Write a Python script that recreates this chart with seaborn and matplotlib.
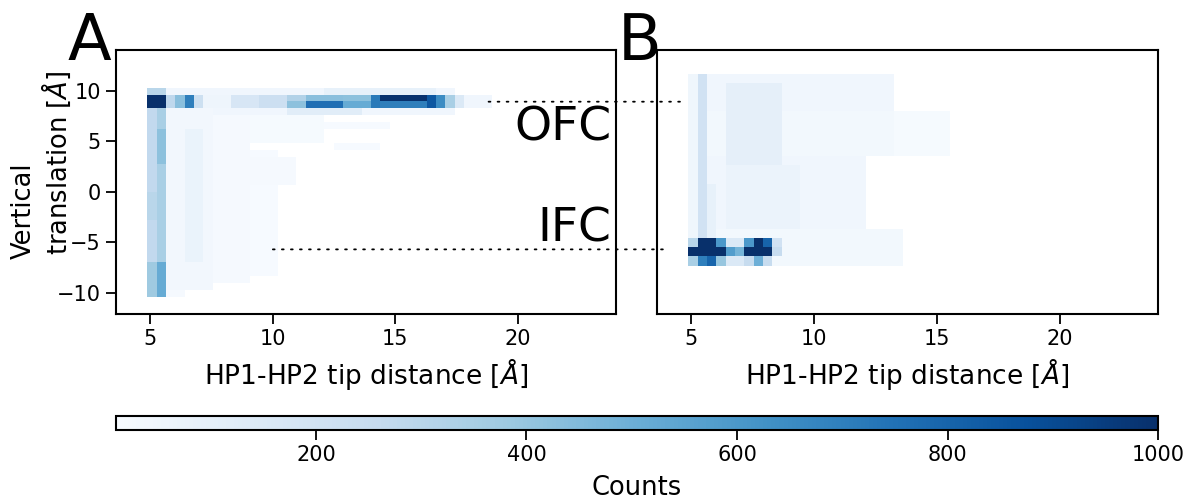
import numpy as np
import pandas as pd
import matplotlib
matplotlib.use("Agg")
import matplotlib.pyplot as plt
import seaborn as sns
from matplotlib.patches import ConnectionPatch

# ---------------- data ----------------
# histogram bin edges
x_edges = 4.88 + 0.38 * np.arange(51)
yA_edges = np.linspace(-10.4, 10.3, 31)
yB_edges = -7.3 + 0.9 * np.arange(22)

# regions of roughly constant counts: (x0, x1, y0, y1, counts); later entries override
A_regions = [
    # faint body
    (5.64, 7.60, -10.0, 8.23, 40),
    (6.40, 7.16, -7.0, 6.0, 75),
    (5.64, 6.40, -10.4, -9.6, 25),
    (7.60, 9.10, -9.0, 8.23, 22),
    (9.10, 10.2, -8.0, 4.0, 15),
    (8.20, 11.0, 0.6, 3.2, 25),
    (9.10, 12.0, 5.0, 8.23, 18),
    (12.0, 14.6, 6.0, 7.0, 15),
    (12.5, 14.3, 4.0, 5.0, 15),
    # vertical strip at ~5 A
    (4.88, 5.26, -10.4, 8.23, 270),
    (5.26, 5.64, -10.4, 8.23, 350),
    (4.88, 5.26, -10.4, -7.0, 380),
    (5.26, 5.64, -10.4, -7.0, 520),
    (5.26, 5.64, 3.0, 6.0, 420),
    (4.88, 5.26, -3.0, 0.0, 300),
    # rows around the OFC band
    (4.88, 5.64, 9.61, 10.3, 300),
    (5.64, 17.5, 9.61, 10.3, 45),
    (12.0, 16.5, 9.61, 10.3, 90),
    (7.60, 17.5, 7.54, 8.23, 45),
    (10.5, 13.5, 7.54, 8.23, 120),
    # OFC band
    (4.88, 5.64, 8.23, 9.61, 1000),
    (5.64, 6.02, 8.23, 9.61, 280),
    (6.02, 6.40, 8.23, 9.61, 430),
    (6.40, 6.78, 8.23, 9.61, 700),
    (6.78, 7.16, 8.23, 9.61, 220),
    (7.16, 8.30, 8.23, 9.61, 60),
    (8.30, 9.44, 8.23, 9.61, 170),
    (9.44, 10.58, 8.23, 9.61, 230),
    (10.58, 11.34, 8.23, 9.61, 320),
    (11.34, 12.86, 8.23, 9.61, 430),
    (12.86, 13.98, 8.23, 9.61, 420),
    (13.98, 14.36, 8.23, 9.61, 720),
    (14.36, 16.26, 8.23, 9.61, 990),
    (16.26, 16.64, 8.23, 9.61, 850),
    (16.64, 17.02, 8.23, 9.61, 650),
    (17.02, 17.40, 8.23, 9.61, 350),
    (17.40, 17.78, 8.23, 9.61, 150),
    (17.78, 18.90, 8.23, 9.61, 45),
    (10.58, 11.34, 8.23, 8.92, 420),
    (11.34, 12.86, 8.23, 8.92, 760),
    (12.86, 13.98, 8.23, 8.92, 520),
    (14.36, 16.26, 8.23, 8.92, 700),
]

B_regions = [
    # faint body
    (4.88, 13.2, 8.0, 11.6, 45),
    (5.64, 15.5, 3.5, 8.0, 35),
    (13.2, 15.5, 3.5, 8.0, 20),
    (5.64, 12.0, -3.7, 3.5, 45),
    (5.64, 13.6, -7.3, -3.7, 35),
    (6.40, 8.70, 2.6, 10.7, 100),
    (6.40, 9.50, -3.7, 2.6, 70),
    # strip at ~5 A
    (4.88, 5.26, -7.3, 11.6, 50),
    (5.26, 5.64, -4.6, 11.6, 200),
    (5.64, 6.02, -4.6, 0.8, 90),
    # IFC blobs, lower row
    (4.88, 5.26, -7.3, -6.4, 350),
    (5.26, 5.64, -7.3, -6.4, 700),
    (5.64, 6.02, -7.3, -6.4, 800),
    (6.02, 6.40, -7.3, -6.4, 400),
    (6.40, 7.16, -7.3, -6.4, 150),
    (7.16, 7.54, -7.3, -6.4, 250),
    (7.54, 7.92, -7.3, -6.4, 500),
    (7.92, 8.30, -7.3, -6.4, 250),
    # middle row
    (4.88, 6.40, -6.4, -5.5, 1000),
    (6.40, 6.78, -6.4, -5.5, 580),
    (6.78, 7.16, -6.4, -5.5, 480),
    (7.16, 8.30, -6.4, -5.5, 1000),
    (8.30, 8.68, -6.4, -5.5, 250),
    # upper row
    (4.88, 5.26, -5.5, -4.6, 300),
    (5.26, 6.02, -5.5, -4.6, 1000),
    (6.02, 6.40, -5.5, -4.6, 600),
    (6.40, 7.16, -5.5, -4.6, 150),
    (7.16, 7.54, -5.5, -4.6, 600),
    (7.54, 7.92, -5.5, -4.6, 1000),
    (7.92, 8.30, -5.5, -4.6, 800),
    (8.30, 8.68, -5.5, -4.6, 200),
]

cbar_ticks = [200, 400, 600, 800, 1000]
x_ticks = [5, 10, 15, 20]
y_ticks = [-10, -5, 0, 5, 10]


def to_table(regions, xe, ye):
    xc = (xe[:-1] + xe[1:]) / 2
    yc = (ye[:-1] + ye[1:]) / 2
    X, Y = np.meshgrid(xc, yc, indexing="ij")
    W = np.zeros_like(X)
    for x0, x1, y0, y1, c in regions:
        m = (X >= x0) & (X < x1) & (Y >= y0) & (Y < y1)
        W[m] = c
    df = pd.DataFrame({"x": X.ravel(), "y": Y.ravel(), "w": W.ravel()})
    return df[df.w > 0]


sns.set_style("ticks")
plt.rcParams["font.family"] = ["DejaVu Sans"]
plt.rcParams["mathtext.fontset"] = "dejavusans"
for k in ("text.color", "axes.labelcolor", "xtick.color", "ytick.color",
          "axes.edgecolor"):
    plt.rcParams[k] = "black"

fig = plt.figure(figsize=(11.87, 5.01), dpi=100)
axA = fig.add_axes([0.0977, 0.373, 0.4213, 0.527])
axB = fig.add_axes([0.5535, 0.373, 0.4221, 0.527])
cax = fig.add_axes([0.0977, 0.1417, 0.8779, 0.028])

dfA = to_table(A_regions, x_edges, yA_edges)
dfB = to_table(B_regions, x_edges, yB_edges)

sns.histplot(data=dfA, x="x", y="y", weights="w", bins=[x_edges, yA_edges],
             cmap="Blues", vmin=10, vmax=1000, ax=axA)
sns.histplot(data=dfB, x="x", y="y", weights="w", bins=[x_edges, yB_edges],
             cmap="Blues", vmin=10, vmax=1000, ax=axB)

xlabel = r"HP1-HP2 tip distance [$\AA$]"
for ax in (axA, axB):
    ax.set_xlim(3.6, 24)
    ax.set_ylim(-12.1, 14)
    ax.set_xticks(x_ticks)
    ax.set_xlabel(xlabel, fontsize=19, labelpad=5)
    ax.tick_params(labelsize=15, length=7, width=1.3, pad=4, direction="out")
    for s in ax.spines.values():
        s.set_linewidth(1.5)
        s.set_visible(True)
axA.set_yticks(y_ticks)
axA.set_ylabel("")
axB.set_yticks([])
axB.set_ylabel("")

# two-line y label, placed as in the reference
fig.text(24 / 1187, 1 - 211 / 501, "Vertical", fontsize=18.5, rotation=90,
         ha="center", va="center")
fig.text(56 / 1187, 1 - 163 / 501, r"translation [$\AA$]", fontsize=18.5,
         rotation=90, ha="center", va="center")

axA.text(23.8, 6.3, "OFC", fontsize=34, ha="right", va="center")
axA.text(23.8, -3.7, "IFC", fontsize=34, ha="right", va="center")

fig.text(67 / 1187, 1 - 60 / 501, "A", fontsize=46, va="baseline")
fig.text(618 / 1187, 1 - 60 / 501, "B", fontsize=46, va="baseline")

for (xa, xb, yv) in [(18.8, 4.8, 8.9), (10.0, 4.1, -5.7)]:
    con = ConnectionPatch(xyA=(xa, yv), coordsA=axA.transData,
                          xyB=(xb, yv), coordsB=axB.transData,
                          linestyle=(0, (1, 4)), linewidth=1.3, color="black")
    fig.add_artist(con)

mesh = axA.collections[0]
cb = fig.colorbar(mesh, cax=cax, orientation="horizontal")
cb.set_ticks(cbar_ticks)
cb.ax.tick_params(labelsize=15, length=7, width=1.3, pad=4)
cb.outline.set_linewidth(1.5)
cb.set_label("Counts", fontsize=18.5, labelpad=7)

fig.savefig("out.png", dpi=100)
